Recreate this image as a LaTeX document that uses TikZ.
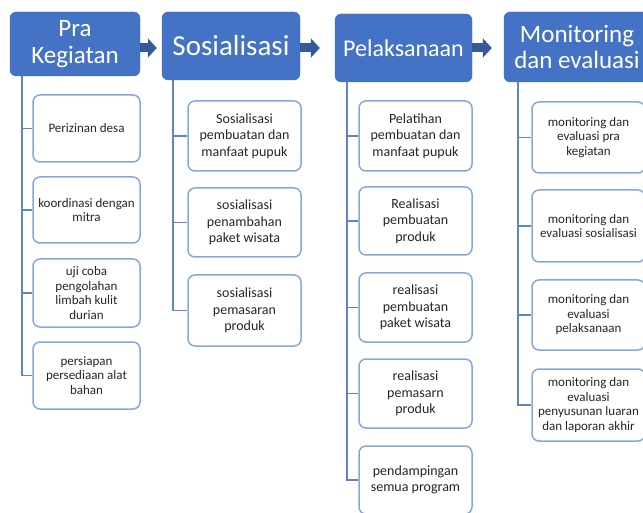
\documentclass[tikz,border=0pt]{standalone}
\usepackage{fontspec}
\setmainfont{Carlito}
\usetikzlibrary{arrows.meta}
\definecolor{hdr}{HTML}{4472C4}
\definecolor{arr}{HTML}{35599A}
\definecolor{edgec}{HTML}{86A6DF}
\definecolor{connc}{HTML}{5F84CC}
\definecolor{txt}{HTML}{262626}
\begin{document}
\begin{tikzpicture}[x=1pt,y=-1pt,
 hdrbox/.style={fill=hdr, draw=hdr, rounded corners=6pt, text=white, align=center, inner sep=0pt},
 item/.style={draw=edgec, line width=1.5pt, fill=white, rounded corners=7pt, align=center, inner sep=0pt, text=txt},
 smalltxt/.style={font=\fontsize{13}{14.5}\selectfont},
 bigtxt/.style={font=\fontsize{14}{16.3}\selectfont},
 conn/.style={draw=connc, line width=1.4pt},
 blockarrow/.style={draw=arr, line width=9pt, -{Triangle[length=9pt,width=19pt]}}]
\useasboundingbox (0,0) rectangle (643,513);
\clip (0,0) rectangle (643,513);
\fill[white] (0,0) rectangle (643,513);

% headers
\node[hdrbox, minimum width=130pt, minimum height=64pt, font=\fontsize{25}{27}\selectfont] (pra) at (75,44) {Pra\\Kegiatan};
\node[hdrbox, minimum width=138pt, minimum height=68pt, font=\fontsize{29}{32}\selectfont] (sos) at (231,46) {Sosialisasi};
\node[hdrbox, minimum width=137pt, minimum height=68pt, font=\fontsize{24}{26}\selectfont] (pel) at (403.5,48) {Pelaksanaan};
\node[hdrbox, minimum width=146pt, minimum height=70pt, font=\fontsize{25}{26}\selectfont] (mon) at (577,47) {Monitoring\\dan evaluasi};

% arrows
\draw[blockarrow, shorten >=5pt] ([yshift=-4pt]pra.east) -- ([yshift=-4pt]pra.east -| sos.west);
\draw[blockarrow, shorten >=15pt] ([yshift=-2pt]sos.east) -- ([yshift=-2pt]sos.east -| pel.west);
\draw[blockarrow, shorten >=12pt] (pel.east) -- (pel.east -| mon.west);

% Pra children
\node[item, smalltxt, minimum width=107pt, minimum height=67pt] (p1) at (86.5,128.5) {Perizinan desa};
\node[item, smalltxt, minimum width=107pt, minimum height=66pt] (p2) at (86.5,210) {koordinasi dengan\\mitra};
\node[item, smalltxt, minimum width=107pt, minimum height=68pt] (p3) at (86.5,293) {uji coba\\pengolahan\\limbah kulit\\durian};
\node[item, smalltxt, minimum width=107pt, minimum height=67pt] (p4) at (86.5,375.5) {persiapan\\persediaan alat\\bahan};

% Sos children
\node[item, bigtxt, minimum width=113pt, minimum height=70pt] (s1) at (244.5,136) {Sosialisasi\\pembuatan dan\\manfaat pupuk};
\node[item, bigtxt, minimum width=113pt, minimum height=69pt] (s2) at (244.5,222.5) {sosialisasi\\penambahan\\paket wisata};
\node[item, bigtxt, minimum width=113pt, minimum height=71pt] (s3) at (244.5,310.5) {sosialisasi\\pemasaran\\produk};

% Pel children
\node[item, bigtxt, minimum width=113pt, minimum height=70pt] (l1) at (415.5,136) {Pelatihan\\pembuatan dan\\manfaat pupuk};
\node[item, bigtxt, minimum width=113pt, minimum height=68pt] (l2) at (415.5,221) {Realisasi\\pembuatan\\produk};
\node[item, bigtxt, minimum width=113pt, minimum height=69pt] (l3) at (415.5,307.5) {realisasi\\pembuatan\\paket wisata};
\node[item, bigtxt, minimum width=113pt, minimum height=69pt] (l4) at (415.5,393.5) {realisasi\\pemasarn\\produk};
\node[item, bigtxt, minimum width=113pt, minimum height=68pt] (l5) at (415.5,480) {pendampingan\\semua program};

% Mon children
\node[item, smalltxt, minimum width=113pt, minimum height=71pt] (m1) at (588.5,137.5) {monitoring dan\\evaluasi pra\\kegiatan};
\node[item, smalltxt, minimum width=113pt, minimum height=72pt] (m2) at (588.5,226) {monitoring dan\\evaluasi sosialisasi};
\node[item, smalltxt, minimum width=113pt, minimum height=70pt] (m3) at (588.5,315) {monitoring dan\\evaluasi\\pelaksanaan};
\node[item, smalltxt, minimum width=113pt, minimum height=72pt] (m4) at (588.5,405) {monitoring dan\\evaluasi\\penyusunan luaran\\dan laporan akhir};

% connectors
\foreach \c in {p1,p2,p3,p4} \draw[conn] ([xshift=12pt]pra.south west) |- (\c.west);
\foreach \c in {s1,s2,s3} \draw[conn] ([xshift=11pt]sos.south west) |- (\c.west);
\foreach \c in {l1,l2,l3,l4,l5} \draw[conn] ([xshift=12pt]pel.south west) |- (\c.west);
\foreach \c in {m1,m2,m3,m4} \draw[conn] ([xshift=14pt]mon.south west) |- (\c.west);
\end{tikzpicture}
\end{document}
